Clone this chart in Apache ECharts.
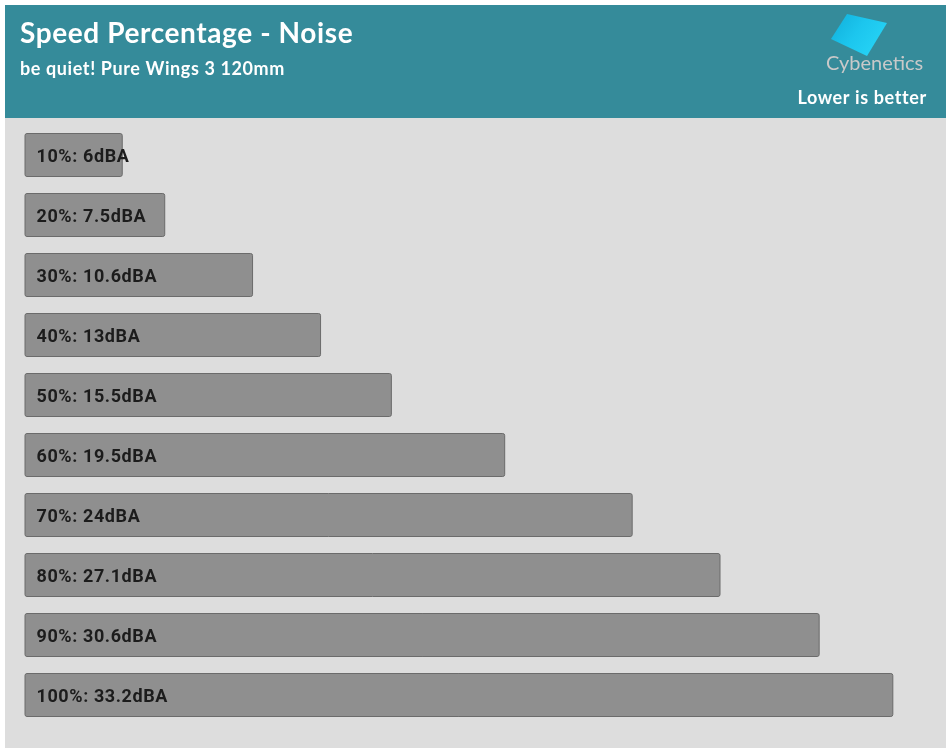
<!DOCTYPE html>
<html>
<head>
<meta charset="utf-8">
<script src="https://cdn.jsdelivr.net/npm/echarts@6/dist/echarts.min.js"></script>
<style>
html,body{margin:0;padding:0;background:#ffffff;}
#chart{width:951px;height:753px;}
</style>
</head>
<body>
<div id="chart"></div>
<script>
var categories = ['10%', '20%', '30%', '40%', '50%', '60%', '70%', '80%', '90%', '100%'];
var noiseValues = [6, 7.5, 10.6, 13, 15.5, 19.5, 24, 27.1, 30.6, 33.2];
var unit = 'dBA';
var axisMin = 2.55;
var axisMax = 34.3;

// slight letter spacing for bold canvas text, as in the reference rendering
(function () {
  var proto = CanvasRenderingContext2D.prototype;
  var origFill = proto.fillText;
  proto.fillText = function () {
    if ('letterSpacing' in this) {
      this.letterSpacing = (String(this.font).indexOf('bold') >= 0) ? '0.6px' : '0px';
    }
    return origFill.apply(this, arguments);
  };
})();

var chart = echarts.init(document.getElementById('chart'), null, {renderer: 'canvas'});
chart.setOption({
  backgroundColor: '#ffffff',
  animation: false,
  graphic: [
    {type: 'rect', silent: true, z: -10, shape: {x: 5, y: 5, width: 941, height: 113}, style: {fill: '#358B9A'}},
    {type: 'rect', silent: true, z: -10, shape: {x: 5, y: 118, width: 941, height: 630}, style: {fill: '#DDDDDD'}},
    {type: 'polygon', silent: true, shape: {points: [[847, 14], [887, 23], [867, 56], [831, 39]]},
      style: {fill: new echarts.graphic.LinearGradient(0, 0, 1, 1, [
        {offset: 0, color: '#10AEDA'}, {offset: 0.45, color: '#1CC6EE'}, {offset: 1, color: '#2AD8F8'}])}},
    {type: 'text', silent: true, left: 826, top: 54,
      style: {text: 'Cybenetics', fill: '#C9C9C9', font: 'normal 20px Lato'}}
  ],
  title: [
    {text: 'Speed Percentage - Noise', left: 15, top: 15,
      textStyle: {color: '#ffffff', fontFamily: 'Lato', fontWeight: 'bold', fontSize: 28}},
    {text: 'be quiet! Pure Wings 3 120mm', left: 15, top: 55,
      textStyle: {color: '#ffffff', fontFamily: 'Lato', fontWeight: 'bold', fontSize: 18}},
    {text: 'Lower is better', right: 29, top: 84,
      textStyle: {color: '#ffffff', fontFamily: 'Lato', fontWeight: 'bold', fontSize: 18}}
  ],
  grid: {left: 25, top: 125, width: (axisMax - axisMin) * 28.33, height: 600, containLabel: false},
  xAxis: {type: 'value', min: axisMin, max: axisMax, show: false},
  yAxis: {type: 'category', data: categories, inverse: true, show: false},
  series: [{
    type: 'bar',
    data: noiseValues,
    barWidth: 44,
    itemStyle: {color: '#8F8F8F', borderColor: '#6B6B6B', borderWidth: 1, borderRadius: 2},
    label: {
      show: true,
      position: 'insideLeft',
      distance: 12,
      offset: [0, 2],
      formatter: function (p) { return p.name + ': ' + p.value + unit; },
      color: '#1C1C1C',
      fontFamily: 'Roboto',
      fontWeight: 'bold',
      fontSize: 18
    }
  }]
});
</script>
</body>
</html>
